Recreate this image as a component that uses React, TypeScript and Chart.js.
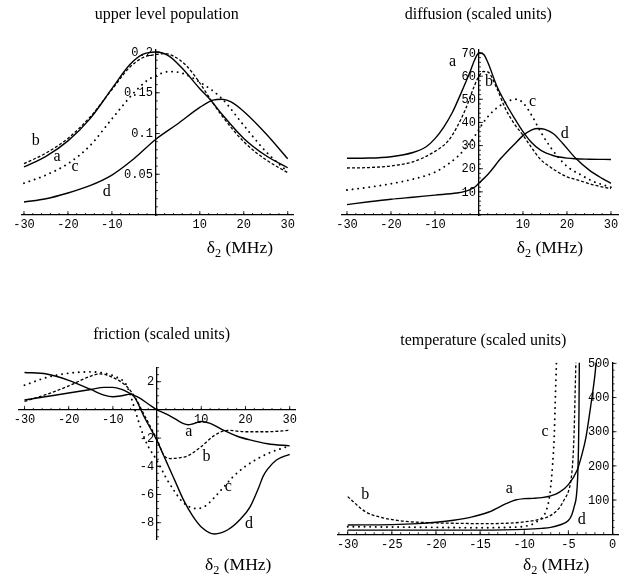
import React, { useEffect, useRef } from 'react';
import { Chart, registerables } from 'chart.js';
Chart.register(...registerables);

// ---------- data ----------
const curveNames = ['a', 'b', 'c', 'd'];

// Panel 1: upper level population
const popAx = [-30, -25, -20, -15, -10, -6, -3, 0, 3, 6, 10, 12.3, 15, 20, 25, 30];
const popAy = [0.059, 0.072, 0.091, 0.118, 0.155, 0.184, 0.197, 0.2, 0.195, 0.18, 0.155, 0.142, 0.124, 0.094, 0.073, 0.058];
const popBx = [-30, -25, -20, -15, -10, -6, -3, 0, 2, 4, 7, 10, 12.3, 15, 20, 25, 30];
const popBy = [0.063, 0.076, 0.094, 0.12, 0.154, 0.181, 0.193, 0.197, 0.198, 0.195, 0.183, 0.162, 0.143, 0.122, 0.09, 0.068, 0.052];
const popCx = [-30, -25, -20, -15, -10, -5, -2, 0, 3, 6, 10, 15, 20, 25, 30];
const popCy = [0.039, 0.049, 0.063, 0.085, 0.118, 0.15, 0.165, 0.171, 0.176, 0.174, 0.163, 0.143, 0.11, 0.078, 0.053];
const popDx = [-30, -25, -20, -15, -10, -5, 0, 5, 10, 13, 15, 17, 20, 25, 30];
const popDy = [0.016, 0.02, 0.027, 0.036, 0.049, 0.069, 0.093, 0.112, 0.132, 0.141, 0.142, 0.139, 0.127, 0.1, 0.069];
const popXTicks = [-30, -20, -10, 10, 20, 30];
const popXTickLabels = ['-30', '-20', '-10', '10', '20', '30'];
const popYTicks = [0.05, 0.1, 0.15, 0.2];
const popYTickLabels = ['0.05', '0.1', '0.15', '0.2'];
const popLabelX = [-22.5, -27.3, -18.4, -11.2];
const popLabelY = [0.071, 0.091, 0.059, 0.029];

// Panel 2: diffusion
const difAx = [-30, -25, -20, -15, -12, -10, -8, -6, -4, -2, -1, 0, 1, 2, 4, 6, 8, 10, 12, 14, 17, 20, 25, 30];
const difAy = [24.5, 24.6, 25.2, 27, 29.5, 33, 38, 44.5, 53, 62, 67, 70, 69.5, 66, 56, 48.5, 42, 36, 31.2, 28, 25.6, 24.6, 24.1, 24];
const difBx = [-30, -25, -20, -15, -10, -7, -5, -3, -1, 0, 1, 2, 4, 6, 8, 10, 12, 14, 16, 18, 20, 23, 26, 30];
const difBy = [20.3, 20.5, 21.2, 23, 27.5, 32, 38, 46, 56, 60, 62, 61.8, 55, 46, 39.5, 34.5, 29, 24, 21, 18.5, 16.5, 14.8, 13, 11.4];
const difCx = [-30, -25, -20, -15, -10, -7, -5, -3, -1, 0, 1, 3, 5, 7, 8.5, 10, 12, 14, 16, 18, 20, 23, 26, 30];
const difCy = [10.8, 12, 13.5, 15.5, 18.5, 22, 25, 29, 34, 37, 40, 44.5, 47.5, 49.5, 50, 48.5, 43, 36, 30, 25, 21, 17.5, 14.5, 12];
const difDx = [-30, -25, -20, -15, -10, -5, -3, -1, 0, 2, 5, 8, 10, 12, 13.5, 15, 17, 19, 22, 25, 28, 30];
const difDy = [4.5, 5.7, 6.8, 7.7, 8.6, 9.5, 10.3, 12, 13.8, 17.5, 24.5, 30.5, 34.3, 36.8, 37.4, 37, 35, 31, 24.5, 19.5, 15.8, 13.7];
const difXTicks = [-30, -20, -10, 10, 20, 30];
const difXTickLabels = ['-30', '-20', '-10', '10', '20', '30'];
const difYTicks = [10, 20, 30, 40, 50, 60, 70];
const difYTickLabels = ['10', '20', '30', '40', '50', '60', '70'];
const difLabelX = [-6, 2.3, 12.2, 19.5];
const difLabelY = [66.2, 57.6, 49, 35];

// Panel 3: friction
const friAx = [-30, -25, -20, -15, -12, -10, -8, -6, -4, -2, 0, 2, 4, 6, 7, 8, 10, 12, 15, 18, 21, 25, 30];
const friAy = [0.7, 0.95, 1.2, 1.45, 1.6, 1.6, 1.45, 1.15, 0.85, 0.42, 0, -0.28, -0.62, -0.98, -1.05, -1.0, -0.82, -0.95, -1.43, -1.85, -2.13, -2.4, -2.55];
const friBx = [-30, -25, -20, -15, -13, -10, -7, -5, -3, -1, 0, 1.5, 3, 5, 7, 10, 13, 16, 20, 25, 30];
const friBy = [0.6, 1.1, 1.7, 2.4, 2.55, 2.3, 1.7, 0.9, -0.3, -1.5, -2.1, -3.2, -3.45, -3.4, -3.25, -2.6, -1.8, -1.45, -1.55, -1.55, -1.45];
const friCx = [-30, -25, -20, -15, -12, -9, -7, -6, -5, -4, -3, -2, 0, 1, 2, 4, 6, 9, 11, 13, 15, 17, 20, 25, 30];
const friCy = [1.75, 2.3, 2.6, 2.7, 2.6, 2.3, 1.8, 1.0, 0.0, -1.0, -1.9, -2.6, -3.6, -4.2, -4.8, -5.8, -6.6, -7.0, -6.8, -6.2, -5.5, -4.8, -4.0, -3.1, -2.55];
const friDx = [-30, -25, -20, -15, -12, -10, -8, -6, -5, -3, -1, 0, 2, 4, 6, 8, 10, 13, 16, 19, 21, 23, 24, 25, 27, 30];
const friDy = [2.65, 2.55, 2.1, 1.45, 1.05, 0.93, 1.0, 1.12, 0.85, -0.45, -1.6, -2.2, -3.6, -5.0, -6.4, -7.5, -8.3, -8.8, -8.5, -7.7, -6.9, -5.5, -4.7, -4.2, -3.55, -3.15];
const friXTicks = [-30, -20, -10, 10, 20, 30];
const friXTickLabels = ['-30', '-20', '-10', '10', '20', '30'];
const friYTicks = [-8, -6, -4, -2, 2];
const friYTickLabels = ['-8', '-6', '-4', '-2', '2'];
const friLabelX = [7.2, 11.2, 16.1, 20.8];
const friLabelY = [-1.55, -3.3, -5.45, -8.05];

// Panel 4: temperature
const temAx = [-30, -25, -22, -20, -18, -16, -14, -12, -11, -10, -9, -8, -7, -6, -5, -4, -3.5, -3, -2.5, -2, -1.85];
const temAy = [27, 28, 31, 35, 41, 50, 65, 90, 100, 104, 105, 107, 112, 123, 145, 188, 230, 285, 370, 465, 505];
const temBx = [-30, -28, -26, -24, -22, -20, -18, -15, -12, -10, -8, -7, -6, -5.5, -5, -4.7, -4.5, -4.35, -4.25, -4.15];
const temBy = [110, 66, 48, 39, 35, 33, 32, 31, 32, 36, 45, 55, 78, 100, 125, 160, 215, 300, 400, 505];
const temCx = [-30, -25, -20, -15, -12, -10, -9, -8.5, -8, -7.5, -7.2, -7, -6.8, -6.6, -6.5, -6.35];
const temCy = [22, 21, 20, 19, 20, 23, 30, 38, 48, 70, 100, 140, 200, 290, 380, 505];
const temDx = [-30, -25, -20, -15, -10, -8, -7, -6, -5, -4.6, -4.3, -4.1, -3.95, -3.85, -3.8, -3.76];
const temDy = [12, 12, 12, 12, 14, 17, 20, 27, 40, 58, 85, 110, 165, 260, 360, 505];
const temXTicks = [-30, -25, -20, -15, -10, -5, 0];
const temXTickLabels = ['-30', '-25', '-20', '-15', '-10', '-5', '0'];
const temYTicks = [100, 200, 300, 400, 500];
const temYTickLabels = ['100', '200', '300', '400', '500'];
const temLabelX = [-11.7, -28.0, -7.65, -3.5];
const temLabelY = [134, 115, 300, 41.5];

// ---------- styles ----------
const lineDashes: number[][] = [[], [3, 2], [0.1, 5.5], []];
const lineCaps = ['butt', 'butt', 'round', 'butt'];
const lineWidths = [1.4, 1.3, 1.9, 1.4];

type PanelCfg = {
  left: number; top: number; width: number; height: number;
  pad: { left: number; right: number; top: number; bottom: number };
  xMin: number; xMax: number; yMin: number; yMax: number;
  xTicks: number[]; xTickLabels: string[]; yTicks: number[]; yTickLabels: string[];
  xMinor: number; yMinor: number;
  xs: number[][]; ys: number[][];
  labelX: number[]; labelY: number[];
};

const panels: PanelCfg[] = [
  {
    left: 0, top: 0, width: 315, height: 290,
    pad: { left: 21.8, right: 22, top: 50, bottom: 75 },
    xMin: -30.5, xMax: 31.2, yMin: 0, yMax: 0.2025,
    xTicks: popXTicks, xTickLabels: popXTickLabels, yTicks: popYTicks, yTickLabels: popYTickLabels,
    xMinor: 2, yMinor: 0.01,
    xs: [popAx, popBx, popCx, popDx], ys: [popAy, popBy, popCy, popDy],
    labelX: popLabelX, labelY: popLabelY,
  },
  {
    left: 315, top: 0, width: 314, height: 290,
    pad: { left: 26.7, right: 11, top: 50, bottom: 75 },
    xMin: -31.2, xMax: 31.6, yMin: 0, yMax: 71.3,
    xTicks: difXTicks, xTickLabels: difXTickLabels, yTicks: difYTicks, yTickLabels: difYTickLabels,
    xMinor: 2, yMinor: 2,
    xs: [difAx, difBx, difCx, difDx], ys: [difAy, difBy, difCy, difDy],
    labelX: difLabelX, labelY: difLabelY,
  },
  {
    left: 0, top: 290, width: 315, height: 291,
    pad: { left: 18.3, right: 20, top: 77.6, bottom: 41.4 },
    xMin: -31.4, xMax: 31.2, yMin: -9.2, yMax: 3.0,
    xTicks: friXTicks, xTickLabels: friXTickLabels, yTicks: friYTicks, yTickLabels: friYTickLabels,
    xMinor: 2, yMinor: 0.5,
    xs: [friAx, friBx, friCx, friDx], ys: [friAy, friBy, friCy, friDy],
    labelX: friLabelX, labelY: friLabelY,
  },
  {
    left: 315, top: 290, width: 314, height: 291,
    pad: { left: 23, right: 11, top: 72.7, bottom: 46.8 },
    xMin: -31.1, xMax: 0.62, yMin: 0, yMax: 502,
    xTicks: temXTicks, xTickLabels: temXTickLabels, yTicks: temYTicks, yTickLabels: temYTickLabels,
    xMinor: 1, yMinor: 20,
    xs: [temAx, temBx, temCx, temDx], ys: [temAy, temBy, temCy, temDy],
    labelX: temLabelX, labelY: temLabelY,
  },
];

const titles = [
  { text: 'upper level population', cx: 166.7, cy: 14 },
  { text: 'diffusion (scaled units)', cx: 478.3, cy: 14 },
  { text: 'friction (scaled units)', cx: 161.7, cy: 333.5 },
  { text: 'temperature (scaled units)', cx: 483.3, cy: 340 },
];
const axisLabels = [
  { x: 206.7, cy: 248 },
  { x: 516.7, cy: 248 },
  { x: 205, cy: 565 },
  { x: 523, cy: 565 },
];

const monoFamily = '"Liberation Mono", "DejaVu Sans Mono", monospace';
const tickFont = { family: monoFamily, size: 12 };

const tickMarksPlugin = {
  id: 'tickMarks',
  afterDatasetsDraw(chart: any, _args: any, opts: any) {
    const { ctx } = chart;
    const xs = chart.scales.x, ys = chart.scales.y;
    const x0 = xs.getPixelForValue(0);
    const y0 = ys.getPixelForValue(0);
    ctx.save();
    ctx.strokeStyle = '#000';
    ctx.lineWidth = 0.8;
    ctx.beginPath();
    for (const v of opts.xTicks) {
      const p = xs.getPixelForValue(v);
      ctx.moveTo(p, y0); ctx.lineTo(p, y0 - 4);
    }
    for (const v of opts.yTicks) {
      const p = ys.getPixelForValue(v);
      ctx.moveTo(x0, p); ctx.lineTo(x0 + 4, p);
    }
    const xs0 = Math.ceil(xs.min / opts.xMinor);
    const xs1 = Math.floor(xs.max / opts.xMinor);
    for (let i = xs0; i <= xs1; i++) {
      const p = xs.getPixelForValue(i * opts.xMinor);
      ctx.moveTo(p, y0); ctx.lineTo(p, y0 - 2);
    }
    const ys0 = Math.ceil(ys.min / opts.yMinor);
    const ys1 = Math.floor(ys.max / opts.yMinor);
    for (let i = ys0; i <= ys1; i++) {
      const p = ys.getPixelForValue(i * opts.yMinor);
      ctx.moveTo(x0, p); ctx.lineTo(x0 + 2, p);
    }
    ctx.stroke();
    // y tick labels, left of the y axis
    ctx.fillStyle = '#000';
    ctx.font = '12px ' + monoFamily;
    ctx.textAlign = 'right';
    ctx.textBaseline = 'middle';
    opts.yTicks.forEach((v: number, i: number) => {
      ctx.fillText(opts.yTickLabels[i], x0 - 3, ys.getPixelForValue(v) + 0.5);
    });
    ctx.restore();
  },
};

const curveLabelPlugin = {
  id: 'curveLabels',
  afterDatasetsDraw(chart: any, _args: any, opts: any) {
    const { ctx } = chart;
    const xs = chart.scales.x, ys = chart.scales.y;
    ctx.save();
    ctx.fillStyle = '#000';
    ctx.font = '16px "Liberation Serif", "DejaVu Serif", serif';
    ctx.textAlign = 'center';
    ctx.textBaseline = 'middle';
    curveNames.forEach((n, i) => {
      ctx.fillText(n, xs.getPixelForValue(opts.labelX[i]), ys.getPixelForValue(opts.labelY[i]));
    });
    ctx.restore();
  },
};

function Panel({ cfg }: { cfg: PanelCfg }) {
  const ref = useRef<HTMLCanvasElement | null>(null);
  useEffect(() => {
    if (!ref.current) return;
    const datasets = cfg.xs.map((xArr, i) => ({
      label: curveNames[i],
      data: xArr.map((x, j) => ({ x, y: cfg.ys[i][j] })),
      borderColor: '#000',
      borderWidth: lineWidths[i],
      borderDash: lineDashes[i],
      borderCapStyle: lineCaps[i],
      pointRadius: 0,
      fill: false,
      cubicInterpolationMode: 'monotone',
    }));
    const chart = new Chart(ref.current, {
      type: 'line',
      data: { datasets } as any,
      plugins: [tickMarksPlugin, curveLabelPlugin],
      options: {
        responsive: false,
        animation: false,
        events: [],
        layout: { padding: cfg.pad },
        plugins: {
          legend: { display: false },
          tooltip: { enabled: false },
          tickMarks: {
            xTicks: cfg.xTicks, yTicks: cfg.yTicks, yTickLabels: cfg.yTickLabels,
            xMinor: cfg.xMinor, yMinor: cfg.yMinor,
          },
          curveLabels: { labelX: cfg.labelX, labelY: cfg.labelY },
        } as any,
        scales: {
          x: {
            type: 'linear',
            min: cfg.xMin, max: cfg.xMax,
            position: { y: 0 } as any,
            grid: { display: false, drawTicks: false },
            border: { display: true, color: '#000', width: 1.3 },
            afterBuildTicks: (s: any) => { s.ticks = cfg.xTicks.map((v) => ({ value: v })); },
            ticks: {
              autoSkip: false, maxRotation: 0, color: '#000', font: tickFont, padding: 3,
              callback: (v: any) => { const k = cfg.xTicks.indexOf(Number(v)); return k >= 0 ? cfg.xTickLabels[k] : ''; },
            },
          },
          y: {
            type: 'linear',
            min: cfg.yMin, max: cfg.yMax,
            position: { x: 0 } as any,
            grid: { display: false, drawTicks: false },
            border: { display: true, color: '#000', width: 1.3 },
            afterBuildTicks: (s: any) => { s.ticks = cfg.yTicks.map((v) => ({ value: v })); },
            ticks: { display: false },
          },
        } as any,
      },
    } as any);
    return () => chart.destroy();
  }, [cfg]);
  return (
    <canvas
      ref={ref}
      width={cfg.width}
      height={cfg.height}
      style={{ position: 'absolute', left: cfg.left, top: cfg.top, width: cfg.width, height: cfg.height }}
    />
  );
}

export default function App() {
  return (
    <div style={{ position: 'fixed', left: 0, top: 0, width: 629, height: 581, background: '#fff', overflow: 'hidden' }}>
      {panels.map((p, i) => <Panel key={i} cfg={p} />)}
      {titles.map((t, i) => (
        <div key={'t' + i} style={{
          position: 'absolute', left: t.cx, top: t.cy, transform: 'translate(-50%, -50%)',
          whiteSpace: 'nowrap', fontFamily: '"Liberation Serif", serif', fontSize: 16, color: '#000', lineHeight: 1,
        }}>{t.text}</div>
      ))}
      {axisLabels.map((a, i) => (
        <div key={'a' + i} style={{
          position: 'absolute', left: a.x, top: a.cy, transform: 'translateY(-50%)',
          whiteSpace: 'nowrap', fontFamily: '"Liberation Serif", serif', fontSize: 17.5, color: '#000', lineHeight: 1,
        }}>δ<span style={{ fontSize: '0.7em', position: 'relative', top: '0.3em' }}>2</span> (MHz)</div>
      ))}
    </div>
  );
}
